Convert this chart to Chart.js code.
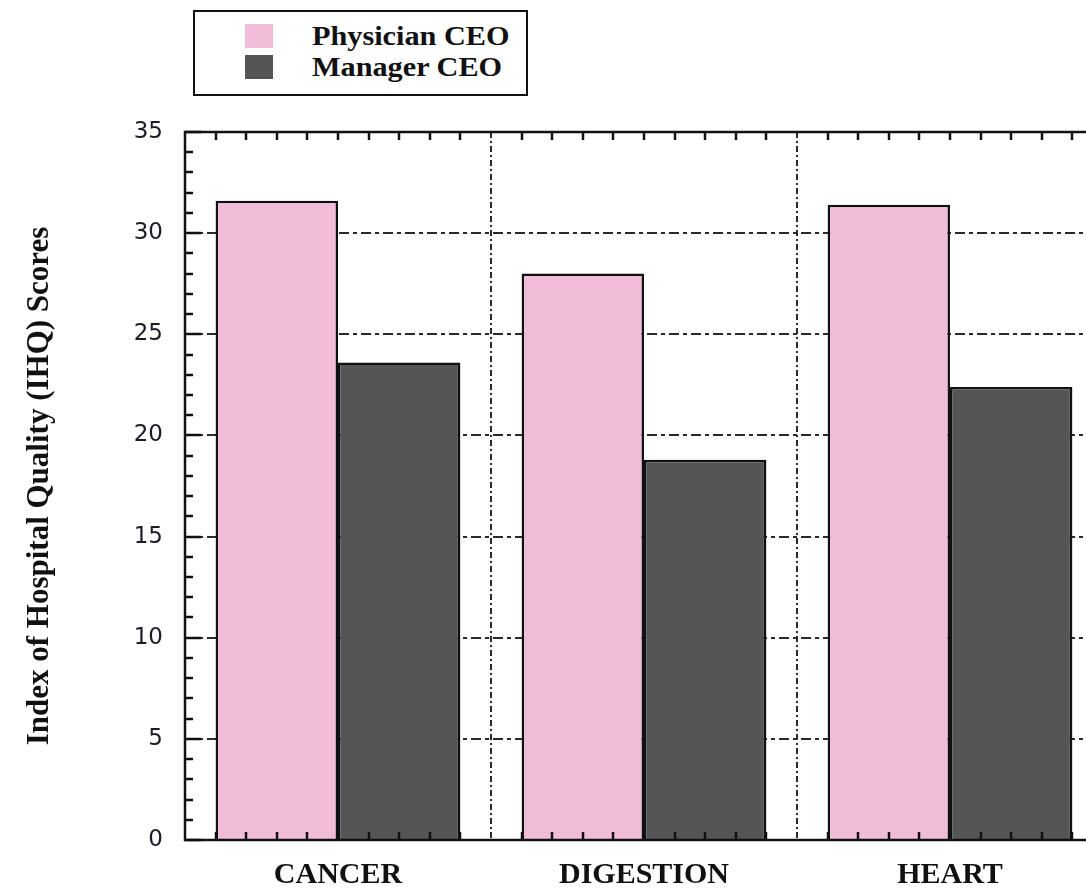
<!DOCTYPE html>
<html>
<head>
<meta charset="utf-8">
<script src="https://cdn.jsdelivr.net/npm/chart.js@4/dist/chart.umd.min.js"></script>
<style>
  html, body { margin: 0; padding: 0; background: #fff; overflow: hidden; width: 1086px; height: 892px; }
  #wrap { position: relative; width: 1086px; height: 892px; overflow: hidden; }
  #c { position: absolute; left: 0; top: 0; }
  #legend { position: absolute; left: 193px; top: 10px; width: 331px; height: 82px; border: 2px solid #111; background: #fff;
            font-family: "Liberation Serif", "Times New Roman", serif; font-weight: bold; font-size: 27px; color: #111; }
  .item { position: absolute; left: 0; height: 30px; line-height: 30px; white-space: nowrap; }
  .sw { position: absolute; left: 50px; top: 3px; width: 28px; height: 24px; }
  .lbl { position: absolute; left: 117px; top: 0; transform: scaleX(1.12); transform-origin: 0 50%; }
</style>
</head>
<body>
<div id="wrap">
  <canvas id="c" width="1120" height="892"></canvas>
  <div id="legend"></div>
</div>
<script>
const categories = ['CANCER', 'DIGESTION', 'HEART'];
const seriesNames = ['Physician CEO', 'Manager CEO'];
const physicianCEO = [31.6, 28.0, 31.4];
const managerCEO = [23.6, 18.8, 22.4];
const yTickValues = [0, 5, 10, 15, 20, 25, 30, 35];
const seriesColors = ['#f0bcd8', '#545557'];

// HTML legend
const legendEl = document.getElementById('legend');
seriesNames.forEach((name, i) => {
  const it = document.createElement('div');
  it.className = 'item';
  it.style.top = (i === 0 ? 9 : 40) + 'px';
  const sw = document.createElement('div');
  sw.className = 'sw';
  sw.style.background = seriesColors[i];
  const lb = document.createElement('div');
  lb.className = 'lbl';
  lb.textContent = name;
  it.appendChild(sw); it.appendChild(lb);
  legendEl.appendChild(it);
});

const frameTicks = {
  id: 'frameTicks',
  afterDatasetsDraw(chart) {
    const ctx = chart.ctx;
    const { left, right, top, bottom } = chart.chartArea;
    const y = chart.scales.y, x = chart.scales.x;
    ctx.save();
    ctx.strokeStyle = '#111';
    ctx.lineWidth = 2.5;
    for (let v = yTickValues[0]; v <= yTickValues[yTickValues.length - 1]; v++) {
      const py = Math.round(y.getPixelForValue(v));
      const len = (v % 5 === 0) ? 16 : 8;
      ctx.beginPath(); ctx.moveTo(left, py); ctx.lineTo(left + len, py); ctx.stroke();
      ctx.beginPath(); ctx.moveTo(right, py); ctx.lineTo(right - len, py); ctx.stroke();
    }
    const w = (right - left) / categories.length;
    categories.forEach((c, i) => {
      const start = x.getPixelForValue(i) - w / 2;
      for (let k = 1; k < 10; k++) {
        const px = Math.round(start + k * w / 10);
        ctx.beginPath(); ctx.moveTo(px, bottom); ctx.lineTo(px, bottom - 8); ctx.stroke();
        ctx.beginPath(); ctx.moveTo(px, top); ctx.lineTo(px, top + 8); ctx.stroke();
      }
    });
    ctx.strokeRect(left, top, right - left, bottom - top);
    ctx.restore();
  }
};

new Chart(document.getElementById('c'), {
  type: 'bar',
  data: {
    labels: categories,
    datasets: [
      { label: seriesNames[0], data: physicianCEO, backgroundColor: seriesColors[0], borderColor: '#111', borderWidth: 2.5 },
      { label: seriesNames[1], data: managerCEO, backgroundColor: seriesColors[1], borderColor: '#111', borderWidth: 2.5 }
    ]
  },
  options: {
    responsive: false,
    animation: false,
    devicePixelRatio: 1,
    categoryPercentage: 0.8,
    barPercentage: 1.0,
    layout: { padding: { top: 132, right: 17, left: 0, bottom: 0 } },
    plugins: { legend: { display: false }, tooltip: { enabled: false } },
    scales: {
      x: {
        grid: { color: '#2a2a2a', lineWidth: 2, drawTicks: false, offset: true },
        border: { display: false, dash: [6, 3, 2, 3] },
        ticks: { color: '#111', padding: 17, font: { family: '"Liberation Serif", serif', weight: 'bold', size: 30 } },
        afterFit(scale) { scale.height = 52; }
      },
      y: {
        min: 0, max: 35,
        afterBuildTicks(scale) { scale.ticks = yTickValues.map(v => ({ value: v })); },
        grid: { color: '#2a2a2a', lineWidth: 2, drawTicks: false },
        border: { display: false, dash: [10, 4, 4, 4] },
        ticks: { color: '#1c1c28', padding: 22, font: { family: '"DejaVu Sans", sans-serif', size: 23 } },
        title: { display: true, text: 'Index of Hospital Quality (IHQ) Scores', color: '#111',
                 padding: { top: 21, bottom: 0 },
                 font: { family: '"Liberation Serif", serif', weight: 'bold', size: 31 } },
        afterFit(scale) { scale.width = 185; }
      }
    }
  },
  plugins: [frameTicks]
});
</script>
</body>
</html>
